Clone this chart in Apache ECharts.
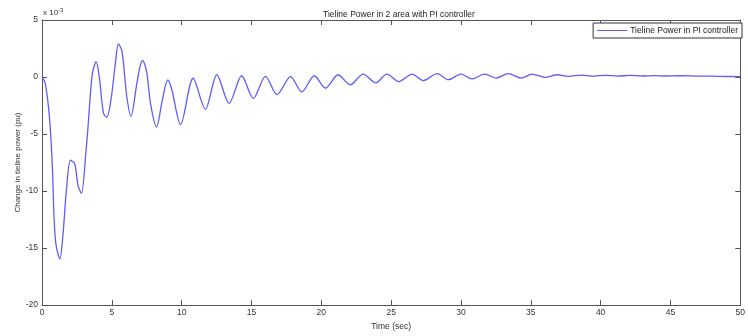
<!DOCTYPE html>
<html>
<head>
<meta charset="utf-8">
<script src="https://cdn.jsdelivr.net/npm/echarts@6/dist/echarts.min.js"></script>
<style>
	html, body { margin: 0; padding: 0; background: #fff; }
	#chart { width: 748px; height: 336px; }
</style>
</head>
<body>
<div id="chart"></div>
<script>
// time (sec) and change in tieline power (x 10^-3 pu)
const times = [
	0, 0.21, 0.45, 0.62, 0.76, 0.85, 0.99, 1.28, 1.51, 1.75, 2.04, 2.34, 2.58, 2.82, 3.17, 3.29,
	3.6, 3.88, 4.12, 4.4, 4.64, 4.95, 5.26, 5.47, 5.73, 6.06, 6.37, 6.77, 7.0, 7.2, 7.48, 7.79,
	8.2, 8.62, 9.0, 9.28, 9.92, 10.82, 11.7, 12.52, 13.4, 14.3, 15.13, 16.0, 16.83, 17.8, 18.6,
	19.5, 20.3, 21.2, 22.07, 23.0, 23.9, 24.7, 25.55, 26.5, 27.3, 28.3, 29.1, 30.0, 30.8, 31.7,
	32.5, 33.4, 34.3, 35.1, 36.0, 36.9, 37.7, 38.6, 39.5, 40.4, 41.2, 42.1, 43.0, 43.8, 44.7,
	45.6, 47.0, 48.5, 50,
];
const power = [
	0, -0.45, -2.46, -5.0, -8.4, -11.9, -14.6, -15.95, -13.7, -9.9, -7.3, -7.6, -9.5, -10.2, -6.2, -4.45,
	0.26, 1.34, -0.17, -3.17, -3.54, -1.9, 1.26, 2.91, 2.25, -1.6, -3.45, -0.74, 0.83, 1.46, 0.54, -2.46,
	-4.37, -2.0, -0.26, -1.03, -4.17, -0.11, -2.83, 0.2, -2.31, 0.11, -1.88, 0.06, -1.54, 0.03, -1.31,
	0.11, -0.97, 0.2, -0.68, 0.26, -0.51, 0.26, -0.4, 0.26, -0.31, 0.29, -0.23, 0.26, -0.17, 0.26,
	-0.09, 0.29, -0.09, 0.26, -0.03, 0.2, 0.06, 0.17, 0.08, 0.15, 0.08, 0.14, 0.09, 0.12, 0.09,
	0.11, 0.08, 0.06, 0.03,
];
const seriesName = 'Tieline Power in PI controller';

const color = {
	line: '#5c5cff',
	axis: '#555555',
	text: '#333333',
};
const fontFamily = '"Liberation Sans", Arial, sans-serif';

const chart = echarts.init(document.getElementById('chart'), null, { renderer: 'canvas' });

const tickAxis = {
	axisLine: { show: true, onZero: false, lineStyle: { color: color.axis, width: 1 } },
	axisTick: { show: true, inside: true, length: 5, lineStyle: { color: color.axis } },
	splitLine: { show: false },
};

chart.setOption({
	backgroundColor: '#ffffff',
	animation: false,
	title: {
		text: 'Tieline Power in 2 area with PI controller',
		left: 394,
		textAlign: 'center',
		top: 5,
		textStyle: { fontFamily, fontSize: 8.5, fontWeight: 'normal', color: '#222' },
	},
	graphic: [{
		type: 'text',
		left: 43,
		top: 7,
		style: {
			text: 'x 10{sup|-3}',
			font: '8px ' + fontFamily,
			fill: color.text,
			rich: { sup: { fontSize: 6, verticalAlign: 'top', padding: [0, 0, 5, 0], fill: color.text } },
		},
	}],
	legend: {
		right: 6,
		top: 23,
		orient: 'vertical',
		backgroundColor: '#fff',
		borderColor: '#333',
		borderWidth: 1,
		padding: [3, 4, 3, 4],
		itemWidth: 30,
		itemHeight: 1,
		itemGap: 0,
		icon: 'rect',
		textStyle: { fontFamily, fontSize: 8.5, color: '#222', padding: [0, 0, 0, -2] },
		data: [seriesName],
	},
	grid: { left: 42, right: 2, top: 20, bottom: 24, containLabel: false },
	xAxis: [
		{
			type: 'value',
			min: 0,
			max: 50,
			interval: 5,
			name: 'Time (sec)',
			nameLocation: 'middle',
			nameGap: 16,
			nameTextStyle: { fontFamily, fontSize: 8.5, color: color.text },
			axisLabel: { fontFamily, fontSize: 8.5, color: color.text, margin: 3 },
			...tickAxis,
		},
		{
			type: 'value',
			position: 'top',
			min: 0,
			max: 50,
			interval: 5,
			axisLabel: { show: false },
			...tickAxis,
		},
	],
	yAxis: [
		{
			type: 'value',
			min: -20,
			max: 5,
			interval: 5,
			name: 'Change in tieline power (pu)',
			nameLocation: 'middle',
			nameGap: 20,
			nameMoveOverlap: false,
			nameTextStyle: { fontFamily, fontSize: 8, color: color.text },
			axisLabel: { fontFamily, fontSize: 8.5, color: color.text, margin: 4 },
			...tickAxis,
		},
		{
			type: 'value',
			position: 'right',
			min: -20,
			max: 5,
			interval: 5,
			axisLabel: { show: false },
			...tickAxis,
		},
	],
	series: [{
		name: seriesName,
		type: 'line',
		symbol: 'none',
		smooth: 0.3,
		lineStyle: { color: color.line, width: 1.3 },
		itemStyle: { color: color.line },
		data: times.map((t, i) => [t, power[i]]),
	}],
});
</script>
</body>
</html>
